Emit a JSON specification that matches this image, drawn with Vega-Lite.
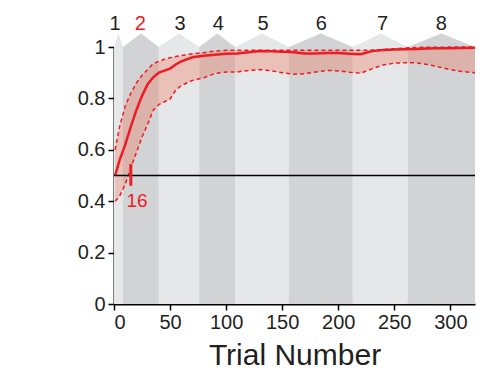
{
  "$schema": "https://vega.github.io/schema/vega-lite/v6.json",
  "width": 361,
  "height": 257,
  "autosize": {"type": "none"},
  "padding": {"left": 114, "top": 47, "right": 12, "bottom": 75},
  "background": "white",
  "config": {
    "view": {"stroke": null},
    "font": "Liberation Sans",
    "axis": {
      "domainColor": "#000000",
      "domainWidth": 2,
      "tickColor": "#000000",
      "tickWidth": 1.5,
      "tickSize": 6,
      "labelFont": "Liberation Sans",
      "labelFontSize": 20,
      "labelColor": "#231f20",
      "titleFont": "Liberation Sans",
      "titleColor": "#231f20",
      "grid": false
    }
  },
  "datasets": {
    "blocks": [
      {"block": 1, "shade": "light", "x": 0, "y": 1},
      {"block": 1, "shade": "light", "x": 4, "y": 1.053},
      {"block": 1, "shade": "light", "x": 8, "y": 1},
      {"block": 2, "shade": "dark", "x": 8, "y": 1},
      {"block": 2, "shade": "dark", "x": 24, "y": 1.053},
      {"block": 2, "shade": "dark", "x": 40, "y": 1},
      {"block": 3, "shade": "light", "x": 40, "y": 1},
      {"block": 3, "shade": "light", "x": 58, "y": 1.053},
      {"block": 3, "shade": "light", "x": 76, "y": 1},
      {"block": 4, "shade": "dark", "x": 76, "y": 1},
      {"block": 4, "shade": "dark", "x": 92, "y": 1.053},
      {"block": 4, "shade": "dark", "x": 108, "y": 1},
      {"block": 5, "shade": "light", "x": 108, "y": 1},
      {"block": 5, "shade": "light", "x": 132, "y": 1.053},
      {"block": 5, "shade": "light", "x": 156, "y": 1},
      {"block": 6, "shade": "dark", "x": 156, "y": 1},
      {"block": 6, "shade": "dark", "x": 184.5, "y": 1.053},
      {"block": 6, "shade": "dark", "x": 213, "y": 1},
      {"block": 7, "shade": "light", "x": 213, "y": 1},
      {"block": 7, "shade": "light", "x": 238, "y": 1.053},
      {"block": 7, "shade": "light", "x": 262, "y": 1},
      {"block": 8, "shade": "dark", "x": 262, "y": 1},
      {"block": 8, "shade": "dark", "x": 292, "y": 1.053},
      {"block": 8, "shade": "dark", "x": 322, "y": 1}
    ],
    "labels": [
      {"label": "1", "x": 1, "y": 1.089},
      {"label": "2", "x": 23.5, "y": 1.089},
      {"label": "3", "x": 59, "y": 1.089},
      {"label": "4", "x": 93, "y": 1.089},
      {"label": "5", "x": 133, "y": 1.089},
      {"label": "6", "x": 185, "y": 1.089},
      {"label": "7", "x": 239.5, "y": 1.089},
      {"label": "8", "x": 292, "y": 1.089}
    ],
    "perf": [
      {"trial": 1, "mean": 0.5, "lo": 0.4, "hi": 0.6},
      {"trial": 5, "mean": 0.56, "lo": 0.42, "hi": 0.69},
      {"trial": 10, "mean": 0.62, "lo": 0.465, "hi": 0.77},
      {"trial": 15, "mean": 0.69, "lo": 0.53, "hi": 0.82},
      {"trial": 20, "mean": 0.755, "lo": 0.59, "hi": 0.86},
      {"trial": 25, "mean": 0.81, "lo": 0.65, "hi": 0.89},
      {"trial": 30, "mean": 0.855, "lo": 0.7, "hi": 0.912},
      {"trial": 35, "mean": 0.882, "lo": 0.754, "hi": 0.935},
      {"trial": 40, "mean": 0.9, "lo": 0.776, "hi": 0.944},
      {"trial": 45, "mean": 0.908, "lo": 0.787, "hi": 0.952},
      {"trial": 50, "mean": 0.916, "lo": 0.797, "hi": 0.958},
      {"trial": 55, "mean": 0.932, "lo": 0.832, "hi": 0.963},
      {"trial": 60, "mean": 0.944, "lo": 0.85, "hi": 0.967},
      {"trial": 70, "mean": 0.96, "lo": 0.87, "hi": 0.974},
      {"trial": 80, "mean": 0.966, "lo": 0.88, "hi": 0.978},
      {"trial": 90, "mean": 0.97, "lo": 0.897, "hi": 0.984},
      {"trial": 100, "mean": 0.974, "lo": 0.903, "hi": 0.987},
      {"trial": 110, "mean": 0.975, "lo": 0.903, "hi": 0.987},
      {"trial": 120, "mean": 0.98, "lo": 0.909, "hi": 0.987},
      {"trial": 130, "mean": 0.984, "lo": 0.912, "hi": 0.987},
      {"trial": 140, "mean": 0.983, "lo": 0.908, "hi": 0.987},
      {"trial": 150, "mean": 0.982, "lo": 0.9, "hi": 0.987},
      {"trial": 160, "mean": 0.98, "lo": 0.894, "hi": 0.987},
      {"trial": 170, "mean": 0.975, "lo": 0.896, "hi": 0.987},
      {"trial": 180, "mean": 0.975, "lo": 0.903, "hi": 0.987},
      {"trial": 190, "mean": 0.977, "lo": 0.909, "hi": 0.987},
      {"trial": 200, "mean": 0.977, "lo": 0.907, "hi": 0.987},
      {"trial": 210, "mean": 0.974, "lo": 0.902, "hi": 0.987},
      {"trial": 220, "mean": 0.972, "lo": 0.898, "hi": 0.987},
      {"trial": 230, "mean": 0.984, "lo": 0.915, "hi": 0.988},
      {"trial": 240, "mean": 0.988, "lo": 0.93, "hi": 0.99},
      {"trial": 250, "mean": 0.99, "lo": 0.937, "hi": 0.993},
      {"trial": 260, "mean": 0.991, "lo": 0.939, "hi": 0.996},
      {"trial": 270, "mean": 0.992, "lo": 0.938, "hi": 0.998},
      {"trial": 280, "mean": 0.994, "lo": 0.932, "hi": 0.999},
      {"trial": 290, "mean": 0.995, "lo": 0.922, "hi": 0.999},
      {"trial": 300, "mean": 0.995, "lo": 0.912, "hi": 1.0},
      {"trial": 310, "mean": 0.996, "lo": 0.905, "hi": 1.0},
      {"trial": 322, "mean": 0.997, "lo": 0.9, "hi": 1.0}
    ],
    "chance": [{"level": 0.5}],
    "crit": [{"trial": 15, "y1": 0.46, "y2": 0.545, "label": "16", "lx": 20.5, "ly": 0.4}]
  },
  "layer": [
    {
      "data": {"name": "blocks"},
      "mark": {"type": "area", "clip": false},
      "encoding": {
        "x": {"field": "x", "type": "quantitative", "scale": {"domain": [0, 322], "nice": false, "zero": false},
              "axis": {"values": [0, 50, 100, 150, 200, 250, 300], "title": "Trial Number", "titleFontSize": 30, "titleFontWeight": "normal", "titlePadding": 8, "labelPadding": 2}},
        "y": {"field": "y", "type": "quantitative", "scale": {"domain": [0, 1], "nice": false},
              "axis": {"values": [0, 0.2, 0.4, 0.6, 0.8, 1], "format": "~g", "title": null, "labelPadding": 3, "labelFlush": false}},
        "y2": {"datum": 0},
        "detail": {"field": "block"},
        "color": {"condition": {"test": "datum.shade === 'dark'", "value": "#d1d3d4"}, "value": "#e6e7e8"}
      }
    },
    {
      "data": {"name": "labels"},
      "mark": {"type": "text", "fontSize": 20, "baseline": "middle", "align": "center", "clip": false},
      "encoding": {
        "x": {"field": "x", "type": "quantitative"},
        "y": {"field": "y", "type": "quantitative"},
        "text": {"field": "label"},
        "color": {"condition": {"test": "datum.label === '2'", "value": "#ed1c24"}, "value": "#231f20"}
      }
    },
    {
      "data": {"name": "perf"},
      "mark": {"type": "area", "color": "#f26a4a", "opacity": 0.3},
      "encoding": {
        "x": {"field": "trial", "type": "quantitative"},
        "y": {"field": "lo", "type": "quantitative"},
        "y2": {"field": "hi"}
      }
    },
    {
      "data": {"name": "perf"},
      "mark": {"type": "line", "color": "#ed1c24", "strokeWidth": 1.5, "strokeDash": [4, 3], "clip": false},
      "encoding": {
        "x": {"field": "trial", "type": "quantitative"},
        "y": {"field": "hi", "type": "quantitative"}
      }
    },
    {
      "data": {"name": "perf"},
      "mark": {"type": "line", "color": "#ed1c24", "strokeWidth": 1.5, "strokeDash": [4, 3]},
      "encoding": {
        "x": {"field": "trial", "type": "quantitative"},
        "y": {"field": "lo", "type": "quantitative"}
      }
    },
    {
      "data": {"name": "perf"},
      "mark": {"type": "line", "color": "#ed1c24", "strokeWidth": 2.5},
      "encoding": {
        "x": {"field": "trial", "type": "quantitative"},
        "y": {"field": "mean", "type": "quantitative"}
      }
    },
    {
      "data": {"name": "chance"},
      "mark": {"type": "rule", "color": "#000000", "strokeWidth": 1.5},
      "encoding": {
        "y": {"field": "level", "type": "quantitative"}
      }
    },
    {
      "data": {"name": "crit"},
      "mark": {"type": "rule", "color": "#ed1c24", "strokeWidth": 3},
      "encoding": {
        "x": {"field": "trial", "type": "quantitative"},
        "y": {"field": "y1", "type": "quantitative"},
        "y2": {"field": "y2"}
      }
    },
    {
      "data": {"name": "crit"},
      "mark": {"type": "text", "color": "#ed1c24", "fontSize": 19, "baseline": "middle", "align": "center"},
      "encoding": {
        "x": {"field": "lx", "type": "quantitative"},
        "y": {"field": "ly", "type": "quantitative"},
        "text": {"field": "label"}
      }
    }
  ]
}
